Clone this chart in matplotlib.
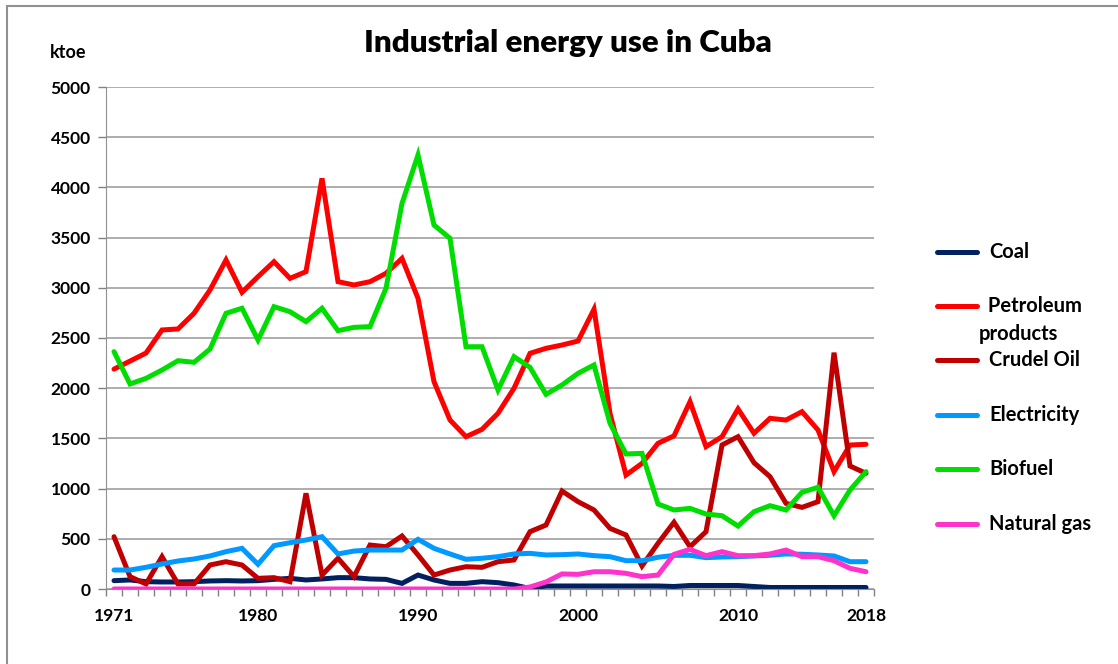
import numpy as np
import matplotlib
matplotlib.use("Agg")
import matplotlib.pyplot as plt
from matplotlib.lines import Line2D
from matplotlib.patches import Rectangle

plt.rcParams['font.family'] = ['Lato', 'DejaVu Sans']
plt.rcParams['font.weight'] = 'bold'

years = np.arange(1971, 2019)

coal = [83, 90, 73, 70, 70, 73, 80, 83, 80, 83,
        96, 106, 90, 100, 113, 113, 100, 96, 56, 139,
        90, 56, 56, 73, 63, 40, 5, 30, 30, 30,
        30, 30, 30, 30, 30, 25, 35, 35, 35, 35,
        25, 15, 15, 15, 15, 15, 15, 15]
petroleum = [2190, 2270, 2350, 2580, 2590, 2746, 2978, 3277, 2955, 3111,
             3260, 3094, 3161, 4090, 3061, 3028, 3061, 3144, 3293, 2895,
             2065, 1683, 1517, 1590, 1750, 1999, 2347, 2397, 2430, 2470,
             2786, 1750, 1135, 1251, 1451, 1525, 1866, 1418, 1517, 1793,
             1551, 1700, 1683, 1766, 1584, 1169, 1434, 1441]
crude = [521, 123, 50, 322, 50, 50, 239, 272, 239, 106,
         113, 73, 953, 139, 306, 123, 438, 421, 528, 339,
         139, 189, 222, 216, 272, 289, 571, 637, 976, 870,
         787, 604, 538, 229, 455, 665, 421, 571, 1434, 1517,
         1258, 1119, 853, 813, 870, 2354, 1225, 1152]
electricity = [189, 189, 216, 249, 279, 299, 329, 372, 405, 246,
               432, 461, 488, 521, 349, 378, 388, 388, 388, 495,
               405, 349, 296, 306, 322, 349, 355, 339, 342, 349,
               332, 322, 282, 282, 316, 335, 336, 312, 319, 322,
               329, 336, 349, 346, 339, 329, 272, 272]
biofuel = [2364, 2042, 2098, 2181, 2274, 2258, 2390, 2746, 2796, 2480,
           2812, 2762, 2663, 2796, 2573, 2606, 2613, 2995, 3841, 4323,
           3625, 3493, 2413, 2413, 1982, 2314, 2208, 1939, 2032, 2148,
           2231, 1650, 1345, 1351, 847, 787, 803, 747, 730, 627,
           770, 830, 787, 963, 1013, 730, 986, 1169]
natural_gas = [0] * 26 + [20, 70, 150, 146, 172, 172, 156, 123, 139, 345,
                          395, 332, 372, 332, 332, 349, 388, 322, 322, 282,
                          206, 172]

names = ["Coal", " Petroleum\nproducts", "Crudel Oil", "Electricity", "Biofuel", "Natural gas"]
colors = ["#002060", "#FF0000", "#C00000", "#0099FF", "#00DD00", "#FF33CC"]
series = [coal, petroleum, crude, electricity, biofuel, natural_gas]

W, H = 1118, 664
fig = plt.figure(figsize=(W / 100, H / 100), dpi=100)
ax = fig.add_axes([106 / W, 1 - 589 / H, (874 - 106) / W, (589 - 87) / H])

for vals, c, n in zip(series, colors, names):
    ax.plot(years, vals, color=c, lw=3.6, solid_capstyle='round',
            solid_joinstyle='miter', label=n)

ax.set_xlim(1970.5, 2018.5)
ax.set_ylim(0, 5000)
ax.set_yticks(np.arange(0, 5001, 500))
ax.set_xticks([1971, 1980, 1990, 2000, 2010, 2018])
ax.set_xticks(np.arange(1970.5, 2019, 1), minor=True)
ax.tick_params(axis='x', which='major', length=0, pad=14, labelsize=12.5)
ax.tick_params(axis='x', which='minor', length=5, color='#808080', width=1)
ax.tick_params(axis='y', length=6, color='#808080', width=1, labelsize=12.5, pad=5)
ax.grid(axis='y', color='#a0a0a0', lw=1.2)
ax.set_axisbelow(True)
for s in ['top', 'right']:
    ax.spines[s].set_visible(False)
ax.spines['left'].set_color('#909090')
ax.spines['bottom'].set_color('#909090')

fig.text(568 / W, 1 - 43 / H, "Industrial energy use in Cuba", fontsize=22.5,
         fontweight='heavy', ha='center', va='center')
fig.text(50 / W, 1 - 52 / H, "ktoe", fontsize=13, fontweight='bold', va='center', ha='left')

# legend entries placed down the right side
leg_y = [252, 306, 360, 415, 469, 524]
for n, c, yy in zip(names, colors, leg_y):
    fig.add_artist(Line2D([937 / W, 977 / W], [1 - yy / H, 1 - yy / H], color=c, lw=3.6,
                          solid_capstyle='round', transform=fig.transFigure))
    if "\n" in n:
        first, second = n.split("\n")
        fig.text(983 / W, 1 - yy / H, first, fontsize=14.5, fontweight='bold', va='center')
        fig.text(979 / W, 1 - (yy + 28) / H, second, fontsize=14.5, fontweight='bold', va='center')
    else:
        fig.text(989 / W, 1 - yy / H, n, fontsize=14.5, fontweight='bold', va='center')

fig.add_artist(Rectangle((7 / W, -0.1), 1.2, 1 - 6 / H + 0.1, transform=fig.transFigure,
                         fill=False, edgecolor='#909090', lw=1.5))

fig.savefig("out.png", dpi=100)
